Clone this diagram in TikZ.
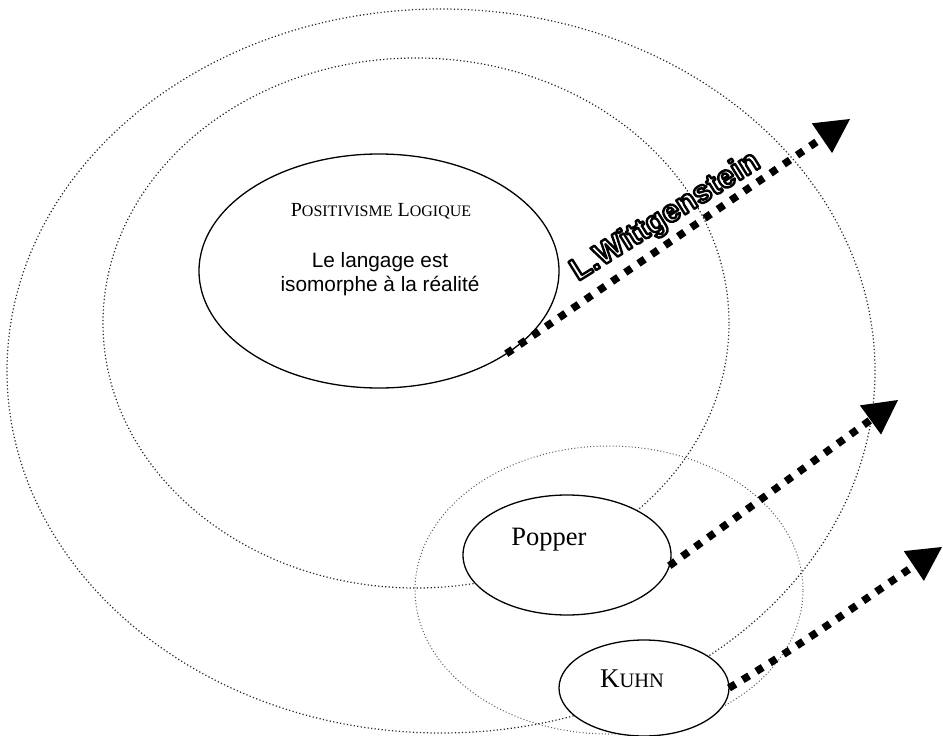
\documentclass[tikz,border=0pt]{standalone}
\usepackage{fontspec}
\setmainfont{Liberation Serif}
\newfontfamily\arialfont{Liberation Sans}
\usetikzlibrary{arrows.meta,shapes.geometric}
\newcommand\outlinetext[1]{\special{pdf:literal direct q 0 G 1 g 2.4 w 1 j 2 Tr}#1\special{pdf:literal direct Q}}
\begin{document}
\begin{tikzpicture}[x=1pt,y=-1pt,
  dotell/.style={ellipse, draw=black!85, line width=1.2pt, dash pattern=on 1.2pt off 2.3pt, inner sep=0pt, outer sep=0pt},
  solidell/.style={ellipse, draw=black, line width=1.3pt, fill=white, inner sep=0pt, outer sep=0pt},
  thickarrow/.style={line width=7.5pt, dash pattern=on 7.5pt off 8.5pt, -{Triangle[length=34pt,width=36pt,line width=0pt]}},
  lbl/.style={inner sep=0pt, anchor=base},
  witt/.style={inner sep=0pt, anchor=base, rotate=32, font=\arialfont\bfseries\fontsize{31.5}{34}\selectfont}
]
\useasboundingbox (0,0) rectangle (943,736);
% dotted ellipses
\node[dotell, minimum width=868pt, minimum height=724pt] (outer) at (441,371) {};
\node[dotell, minimum width=626pt, minimum height=530pt] (middle) at (416,323) {};
\node[dotell, draw=black!65, line width=1pt, dash pattern=on 1pt off 2.2pt, minimum width=388pt, minimum height=288pt] (small) at (609,590) {};
% solid ellipses
\node[solidell, minimum width=360pt, minimum height=234pt] (pos) at (379,271) {};
\node[solidell, minimum width=208pt, minimum height=120pt] (popper) at (567,555) {};
\node[solidell, minimum width=170pt, minimum height=96pt] (kuhn) at (644,688) {};
% arrows
\coordinate (wtip) at (850,119);
\coordinate (ptip) at (898,400);
\coordinate (ktip) at (942,547);
\draw[thickarrow] (pos.-33.6) -- (wtip);
\draw[thickarrow] (popper.-6.5) -- (ptip);
\draw[thickarrow] (kuhn.0) to[out=31,in=214] (ktip);
% texts
\node[lbl, font=\fontsize{20}{24}\selectfont] (postitle) at (381,216) {P{\fontsize{16}{20}\selectfont OSITIVISME} L{\fontsize{16}{20}\selectfont OGIQUE}};
\node[lbl, font=\arialfont\fontsize{20.8}{24}\selectfont] (posa) at (380,267) {Le langage est};
\node[lbl, font=\arialfont\fontsize{20.8}{24}\selectfont] (posb) at (380,291) {isomorphe à la réalité};
\node[lbl, font=\fontsize{26.5}{30}\selectfont] (poppertext) at (549,545) {Popper};
\node[lbl, font=\fontsize{27}{30}\selectfont] (kuhntext) at (632,687) {K{\fontsize{20.5}{24}\selectfont UHN}};
% outlined Wittgenstein label
\node[witt] (witt) at (670,224) {\outlinetext{L.Wittgenstein}};
\end{tikzpicture}
\end{document}
